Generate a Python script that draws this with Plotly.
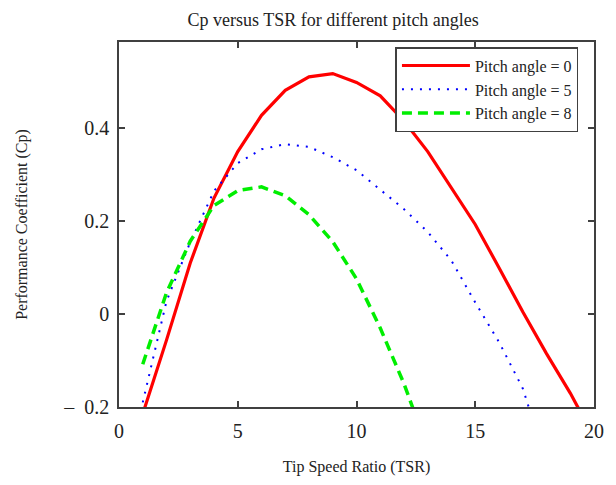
import plotly.graph_objects as go

# TSR values (x) and Cp values per pitch angle
tsr_p0 = [1, 2, 3, 4, 5, 6, 7, 8, 9, 10, 11, 12, 13, 14, 15, 16, 17, 18, 19, 20]
cp_p0 = [-0.215, -0.056, 0.11, 0.25, 0.35, 0.428, 0.482, 0.511, 0.518, 0.499,
         0.47, 0.416, 0.35, 0.272, 0.193, 0.10, 0.005, -0.085, -0.17, -0.265]

tsr_p5 = [1, 2, 3, 4, 5, 6, 7, 8, 9, 10, 11, 12, 13, 14, 15, 16, 17, 18]
cp_p5 = [-0.19, 0.028, 0.155, 0.265, 0.325, 0.355, 0.366, 0.36, 0.338, 0.31,
         0.268, 0.226, 0.177, 0.115, 0.025, -0.06, -0.16, -0.32]

tsr_p8 = [1, 2, 3, 4, 5, 6, 7, 8, 9, 10, 11, 12, 13]
cp_p8 = [-0.108, 0.046, 0.157, 0.234, 0.266, 0.274, 0.255, 0.214, 0.156, 0.076,
         -0.03, -0.15, -0.29]

series_names = ["Pitch angle = 0", "Pitch angle = 5", "Pitch angle = 8"]

x_tickvals = [0, 5, 10, 15, 20]
x_ticktext = ["0", "5", "10", "15", "20"]
y_tickvals = [-0.2, 0, 0.2, 0.4]
y_ticktext = ["\u2013\u00a0\u00a00.2", "0", "0.2", "0.4"]

FONT = "Liberation Serif"
AXIS_COLOR = "#404040"
TEXT_COLOR = "#222222"

fig = go.Figure()
fig.add_trace(go.Scatter(x=tsr_p0, y=cp_p0, mode="lines", name=series_names[0],
                         line=dict(color="#ff0000", width=3.2)))
fig.add_trace(go.Scatter(x=tsr_p5, y=cp_p5, mode="lines", name=series_names[1],
                         line=dict(color="#0000ff", width=2, dash="2px,7px")))
fig.add_trace(go.Scatter(x=tsr_p8, y=cp_p8, mode="lines", name=series_names[2],
                         line=dict(color="#00ee00", width=3.5, dash="10px,6px")))

axis_common = dict(
    showline=True, linecolor=AXIS_COLOR, linewidth=1.5, mirror="ticks",
    ticks="inside", ticklen=6, tickwidth=1.5, tickcolor=AXIS_COLOR,
    showgrid=False, zeroline=False,
    tickfont=dict(family=FONT, size=20, color=TEXT_COLOR),
)

fig.update_layout(
    width=608, height=477,
    margin=dict(l=105, r=13, t=34, b=74),
    paper_bgcolor="white", plot_bgcolor="white",
    font=dict(family=FONT, color=TEXT_COLOR),
    title=dict(text="Cp versus TSR for different pitch angles",
               font=dict(family=FONT, size=18, color=TEXT_COLOR),
               x=0.451, xref="paper", xanchor="center",
               y=0.976, yref="container", yanchor="middle"),
    xaxis=dict(range=[0, 20], tickvals=x_tickvals, ticktext=x_ticktext,
               ticklabelstandoff=5,
               title=dict(text="Tip Speed Ratio (TSR)",
                          font=dict(family=FONT, size=16, color=TEXT_COLOR),
                          standoff=20),
               **axis_common),
    yaxis=dict(range=[-0.2, 0.586], tickvals=y_tickvals, ticktext=y_ticktext,
               ticklabelstandoff=4,
               title=dict(text="Performance Coefficient (Cp)",
                          font=dict(family=FONT, size=16, color=TEXT_COLOR),
                          standoff=32),
               **axis_common),
    legend=dict(x=0.582, y=0.986, xanchor="left", yanchor="top",
                bgcolor="white", bordercolor=AXIS_COLOR, borderwidth=1.5,
                font=dict(family=FONT, size=16, color=TEXT_COLOR),
                tracegroupgap=0, itemwidth=68),
    showlegend=True,
)

fig.write_html("out.html")
